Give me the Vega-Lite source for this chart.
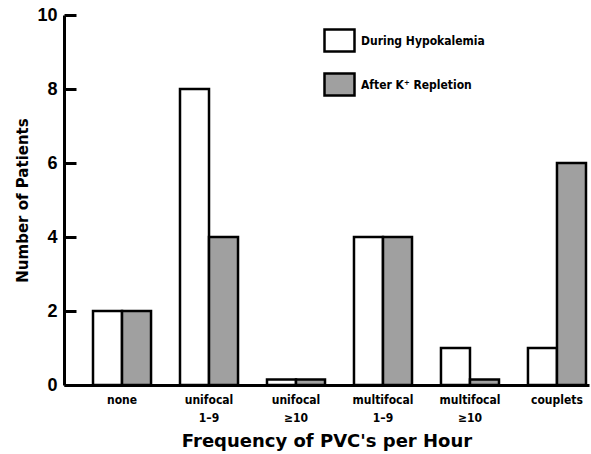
{
  "$schema": "https://vega.github.io/schema/vega-lite/v6.json",
  "width": 525,
  "height": 370,
  "autosize": "none",
  "padding": {"left": 64, "top": 15, "right": 2, "bottom": 69},
  "background": "white",
  "data": {
    "values": [
      {"cat": "none", "series": "During Hypokalemia", "n": 2},
      {"cat": "none", "series": "After K⁺ Repletion", "n": 2},
      {"cat": "unifocal|1–9", "series": "During Hypokalemia", "n": 8},
      {"cat": "unifocal|1–9", "series": "After K⁺ Repletion", "n": 4},
      {"cat": "unifocal|≥10", "series": "During Hypokalemia", "n": 0.15},
      {"cat": "unifocal|≥10", "series": "After K⁺ Repletion", "n": 0.15},
      {"cat": "multifocal|1–9", "series": "During Hypokalemia", "n": 4},
      {"cat": "multifocal|1–9", "series": "After K⁺ Repletion", "n": 4},
      {"cat": "multifocal|≥10", "series": "During Hypokalemia", "n": 1},
      {"cat": "multifocal|≥10", "series": "After K⁺ Repletion", "n": 0.15},
      {"cat": "couplets", "series": "During Hypokalemia", "n": 1},
      {"cat": "couplets", "series": "After K⁺ Repletion", "n": 6}
    ]
  },
  "mark": {"type": "bar", "stroke": "black", "strokeWidth": 2.5, "strokeJoin": "miter"},
  "encoding": {
    "x": {
      "field": "cat",
      "type": "nominal",
      "sort": null,
      "scale": {"paddingInner": 0.333, "paddingOuter": 0.184, "align": 0.906},
      "axis": {
        "title": "Frequency of PVC's per Hour",
        "labelAngle": 0,
        "labelExpr": "split(datum.label, '|')",
        "labelFont": "DejaVu Sans Condensed",
        "labelFontWeight": "bold",
        "labelFontSize": 12,
        "labelLineHeight": 18,
        "labelColor": "black",
        "labelPadding": 9,
        "ticks": false,
        "domainColor": "black",
        "domainWidth": 3,
        "titleFont": "DejaVu Sans",
        "titleFontWeight": "bold",
        "titleFontSize": 18,
        "titleColor": "black",
        "titlePadding": 9
      }
    },
    "xOffset": {"field": "series", "type": "nominal", "sort": ["During Hypokalemia", "After K⁺ Repletion"], "scale": {"paddingInner": 0, "paddingOuter": 0}},
    "y": {
      "field": "n",
      "type": "quantitative",
      "scale": {"domain": [0, 10], "nice": false},
      "axis": {
        "title": "Number of Patients",
        "values": [0, 2, 4, 6, 8, 10],
        "grid": false,
        "tickSize": -12,
        "tickWidth": 3,
        "tickColor": "black",
        "domainColor": "black",
        "domainWidth": 3,
        "labelFont": "Liberation Sans",
        "labelFontWeight": "bold",
        "labelFontSize": 18,
        "labelColor": "black",
        "labelPadding": 19,
        "titleFont": "DejaVu Sans",
        "titleFontWeight": "bold",
        "titleFontSize": 15,
        "titleColor": "black",
        "titlePadding": 6
      }
    },
    "fill": {
      "field": "series",
      "type": "nominal",
      "sort": ["During Hypokalemia", "After K⁺ Repletion"],
      "scale": {"domain": ["During Hypokalemia", "After K⁺ Repletion"], "range": ["white", "#a0a0a0"]},
      "legend": {
        "title": null,
        "orient": "none",
        "legendX": 259,
        "legendY": 9,
        "padding": 0,
        "symbolType": "M-1,-0.73H1V0.73H-1Z",
        "symbolSize": 900,
        "symbolStrokeColor": "black",
        "symbolStrokeWidth": 2.5,
        "symbolOpacity": 1,
        "rowPadding": 11,
        "labelFont": "DejaVu Sans Condensed",
        "labelFontWeight": "bold",
        "labelFontSize": 12,
        "labelColor": "black",
        "labelOffset": 5
      }
    }
  },
  "config": {"view": {"stroke": null}}
}
